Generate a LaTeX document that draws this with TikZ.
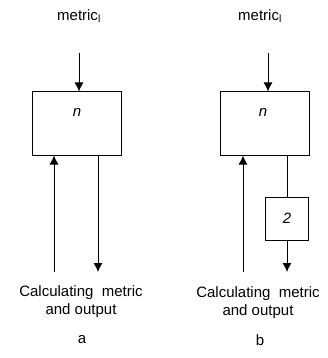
\documentclass[tikz,border=0pt]{standalone}
\usepackage{fontspec}
\setmainfont{Liberation Sans}
\usetikzlibrary{arrows.meta,positioning}
\tikzset{
  bigbox/.style   = {draw, line width=1pt, minimum width=89pt, minimum height=63pt, inner sep=0pt},
  smallbox/.style = {draw, line width=1pt, minimum width=43pt, minimum height=43pt, inner sep=0pt},
  flow/.style     = {-{Latex[length=9pt,width=9pt]}, line width=1pt},
  wire/.style     = {line width=1pt},
  lbl/.style      = {font=\fontsize{15}{18}\selectfont, align=center, inner sep=0pt},
}

\begin{document}
\begin{tikzpicture}[x=1pt,y=-1pt]
    \useasboundingbox (0,0) rectangle (328,358);
    % panel a
    \node[lbl] (metrica) at (79,16) {metric\textsubscript{l}};
    \node[bigbox] (boxa) at (76.5,123.5) {};
    \node[lbl,font=\fontsize{15}{16}\selectfont\itshape] (na) at (77,112) {n};
    \coordinate (ina) at (79,53);
    \coordinate (upa) at (54,272);
    \coordinate (outa) at (98,272);
    \draw[flow] (ina) -- (ina |- boxa.north);
    \draw[flow] (upa) -- (upa |- boxa.south);
    \draw[flow] (outa |- boxa.south) -- (outa);
    \node[lbl] (calca) at (81,302) {Calculating\ \ metric\\and output};
    \node[lbl] (capa) at (82,340) {a};
    % panel b
    \node[lbl] (metricb) at (260,16) {metric\textsubscript{l}};
    \node[bigbox] (boxb) at (264.5,123.5) {};
    \node[lbl,font=\fontsize{15}{16}\selectfont\itshape] (nb) at (263,112) {n};
    \node[smallbox] (twob) at (287,218.5) {};
    \node[lbl,font=\fontsize{15}{16}\selectfont\itshape] (twolbl) at (twob) {2};
    \coordinate (inb) at (268,53);
    \coordinate (upb) at (243,272);
    \coordinate (outb) at (287,272);
    \draw[flow] (inb) -- (inb |- boxb.north);
    \draw[flow] (upb) -- (upb |- boxb.south);
    \draw[wire] (twob.north |- boxb.south) -- (twob.north);
    \draw[flow] (twob.south) -- (outb);
    \node[lbl] (calcb) at (258,303) {Calculating\ \ metric\\and output};
    \node[lbl] (capb) at (260,340) {b};
\end{tikzpicture}
\end{document}
